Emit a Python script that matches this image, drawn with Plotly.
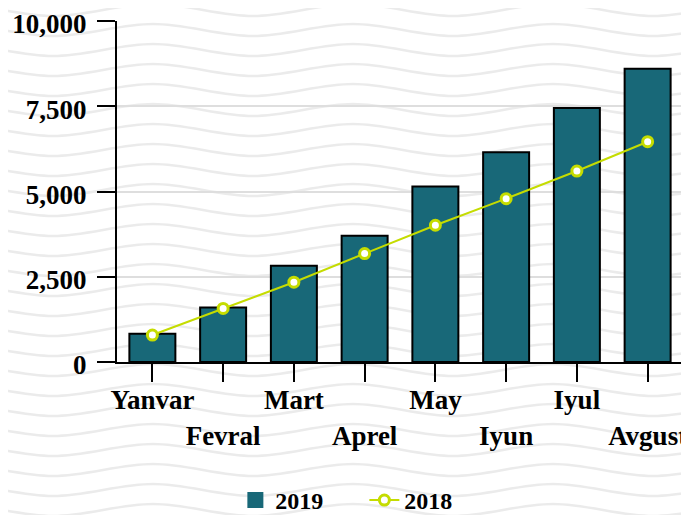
import base64
import plotly.graph_objects as go

# %% data
months = ["Yanvar", "Fevral", "Mart", "Aprel", "May", "Iyun", "Iyul", "Avgust"]
sales_2019 = [830, 1600, 2820, 3700, 5150, 6150, 7450, 8600]
sales_2018 = [790, 1570, 2340, 3180, 4010, 4790, 5600, 6460]
y_ticks = [0, 2500, 5000, 7500, 10000]

# every second month label goes on a lower row
tick_text = [m if i % 2 == 0 else "<br>" + m for i, m in enumerate(months)]

teal = "#186878"
lime = "#c5dc00"
font = dict(family="Liberation Serif", size=27, color="black", weight="bold")

W, H = 689, 515
# the page body keeps its default 8px margin, so everything is pulled up/left by 8px
ml, mr, mt, mb = 109, 14, 13, 161

# %% wavy background as an svg pattern
wave = '<path d="M0 {a} C 33 {a} 67 {b} 100 {b} C 133 {b} 167 {a} 200 {a}" fill="none" stroke="#ebebeb" stroke-width="2.5"/>'
svg = (
    f'<svg xmlns="http://www.w3.org/2000/svg" width="{W}" height="{H}">'
    '<defs><pattern id="w" width="200" height="20" patternUnits="userSpaceOnUse" x="45" y="-8">'
    + "".join(wave.format(a=o + 16, b=o + 4) for o in (-20, 0, 20))
    + '</pattern></defs>'
    f'<rect width="{W}" height="{H}" fill="white"/>'
    f'<rect width="{W}" height="{H}" fill="url(#w)"/>'
    '</svg>'
)
bg_src = "data:image/svg+xml;base64," + base64.b64encode(svg.encode()).decode()

# %% figure
fig = go.Figure()
fig.add_trace(
    go.Bar(
        x=months,
        y=sales_2019,
        name="2019",
        width=0.65,
        marker=dict(color=teal, line=dict(color="black", width=2)),
        showlegend=False,
    )
)
# legend swatch for the bars
fig.add_trace(
    go.Scatter(
        x=[None], y=[None], name="2019", mode="markers",
        marker=dict(symbol="square", size=30, color=teal),
    )
)
fig.add_trace(
    go.Scatter(
        x=months,
        y=sales_2018,
        name="2018",
        mode="lines+markers",
        line=dict(color=lime, width=2),
        marker=dict(size=10, color="white", line=dict(color=lime, width=3)),
    )
)

fig.update_layout(
    width=W,
    height=H,
    margin=dict(l=ml, r=mr, t=mt, b=mb),
    paper_bgcolor="white",
    plot_bgcolor="rgba(0,0,0,0)",
    font=font,
    showlegend=True,
    legend=dict(
        orientation="h", xref="container", yref="container",
        x=0.33, xanchor="left", y=0.0, yanchor="bottom",
        entrywidth=84, entrywidthmode="pixels",
        font=dict(family="Liberation Serif", size=24, color="black", weight="bold"),
        bgcolor="rgba(0,0,0,0)",
    ),
    images=[dict(
        source=bg_src, xref="paper", yref="paper",
        x=-ml / (W - ml - mr), y=1 + mt / (H - mt - mb),
        sizex=W / (W - ml - mr), sizey=H / (H - mt - mb),
        xanchor="left", yanchor="top", sizing="stretch", layer="below",
    )],
)
fig.update_xaxes(
    tickvals=months,
    ticktext=tick_text,
    tickangle=0,
    automargin=False,
    ticklabeloverflow="allow",
    showline=True, linecolor="black", linewidth=2,
    ticks="outside", ticklen=18, tickwidth=2, tickcolor="black",
    showgrid=False,
    ticklabelstandoff=-5,
)
fig.update_yaxes(
    range=[0, 10000],
    tickvals=y_ticks,
    tickformat=",",
    automargin=False,
    ticklabeloverflow="allow",
    showline=True, linecolor="black", linewidth=2,
    ticks="outside", ticklen=18, tickwidth=2, tickcolor="black",
    showgrid=True, gridcolor="#dedede", gridwidth=2,
    zeroline=False,
    ticklabelstandoff=5,
    ticklabelshift=3,
)

fig.write_html("out.html")
